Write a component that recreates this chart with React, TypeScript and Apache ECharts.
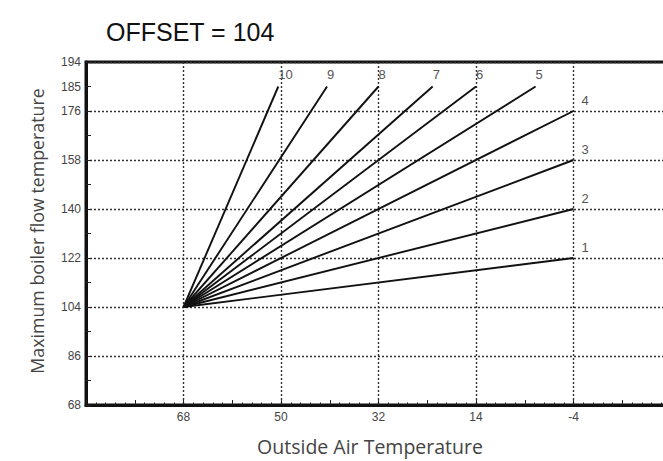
import React, { useEffect, useRef } from 'react';
import * as echarts from 'echarts';

// ---- data ----
const TITLE = 'OFFSET = 104';
const X_NAME = 'Outside Air Temperature';
const Y_NAME = 'Maximum boiler flow temperature';
const X_MIN = -22; // right edge (axis reversed)
const X_MAX = 86; // left edge
const Y_MIN = 68;
const Y_MAX = 194;
const X_TICK_LABELS = [68, 50, 32, 14, -4];
const Y_TICK_LABELS = [68, 86, 104, 122, 140, 158, 176, 185, 194];
const CURVE_NAMES = ['1', '2', '3', '4', '5', '6', '7', '8', '9', '10'];
const START_X = 68;
const START_Y = 104;
const END_X = [-4, -4, -4, -4, 3, 14, 22, 32, 41.5, 50.5];
const END_Y = [122, 140, 158, 176, 185, 185, 185, 185, 185, 185];

// axis transforms (x shown reversed, from 86 down to -22)
const tx = (x: number) => X_MAX - x;
const ty = (y: number) => y - Y_MIN;
const X_SPAN = X_MAX - X_MIN;
const Y_SPAN = Y_MAX - Y_MIN;

const TICK_FONT = 'Liberation Sans, Arial, sans-serif';
const NAME_FONT = 'Open Sans, Noto Sans, sans-serif';
const DARK = '#111';

export default function App() {
  const ref = useRef<HTMLDivElement>(null);
  useEffect(() => {
    if (!ref.current) return;
    const chart = echarts.init(ref.current, undefined, { renderer: 'svg' });
    const series = CURVE_NAMES.map((name, i) => ({
      name,
      type: 'line',
      xAxisIndex: 0,
      yAxisIndex: 0,
      showSymbol: false,
      symbol: 'none',
      silent: true,
      lineStyle: { color: DARK, width: 1.9 },
      data: [
        [tx(START_X), ty(START_Y)],
        [tx(END_X[i]), ty(END_Y[i])],
      ],
      endLabel: {
        show: true,
        formatter: name,
        distance: 0,
        offset: END_Y[i] === Y_MAX - 9 ? [0, -12] : [8, -11],
        color: '#555',
        fontSize: 13,
        fontFamily: TICK_FONT,
      },
    }));
    chart.setOption({
      animation: false,
      backgroundColor: '#fff',
      title: {
        text: TITLE,
        left: 101,
        top: 14,
        textStyle: { fontSize: 25, fontWeight: 'normal', color: DARK, fontFamily: TICK_FONT },
      },
      grid: {
        left: 86,
        top: 62,
        width: 585,
        height: 343,
        show: true,
        borderColor: DARK,
        borderWidth: 3,
        backgroundColor: 'transparent',
      },
      xAxis: [
        {
          type: 'value',
          min: 0,
          max: X_SPAN,
          interval: 18,
          position: 'bottom',
          axisLine: { show: true, lineStyle: { color: DARK, width: 3 } },
          axisTick: { show: false },
          axisLabel: {
            color: '#444',
            fontSize: 12,
            fontFamily: TICK_FONT,
            margin: 6,
            formatter: (v: number) => {
              const real = Math.round(X_MAX - v);
              return X_TICK_LABELS.includes(real) ? String(real) : '';
            },
          },
          splitLine: { show: true, lineStyle: { type: [2, 2], color: '#333', width: 1.4 } },
          name: X_NAME,
          nameLocation: 'middle',
          nameGap: 31,
          nameTextStyle: { fontSize: 19.5, color: '#444', fontFamily: NAME_FONT, padding: [0, 17, 0, 0] },
        },
        {
          type: 'value',
          min: 0,
          max: X_SPAN,
          interval: 9,
          position: 'bottom',
          axisLine: { show: false },
          axisTick: { show: true, inside: true, length: 5, lineStyle: { color: '#222', width: 1 } },
          minorTick: { show: true, splitNumber: 5, length: 2.5, lineStyle: { color: '#222', width: 1 } },
          axisLabel: { show: false },
          splitLine: { show: false },
        },
      ],
      yAxis: [
        {
          type: 'value',
          min: 0,
          max: Y_SPAN,
          interval: 9,
          position: 'left',
          axisLine: { show: true, lineStyle: { color: DARK, width: 3 } },
          axisTick: { show: true, inside: true, length: 5, lineStyle: { color: '#222', width: 1 } },
          axisLabel: {
            color: '#444',
            fontSize: 12,
            fontFamily: TICK_FONT,
            margin: 5,
            formatter: (v: number) => {
              const real = Math.round(v + Y_MIN);
              return Y_TICK_LABELS.includes(real) ? String(real) : '';
            },
          },
          splitLine: { show: false },
          name: Y_NAME,
          nameLocation: 'middle',
          nameGap: 40,
          nameTextStyle: { fontSize: 17.8, color: '#444', fontFamily: NAME_FONT, padding: [0, 0, 0, 5] },
        },
        {
          type: 'value',
          min: 0,
          max: Y_SPAN,
          interval: 18,
          position: 'left',
          axisLine: { show: false },
          axisTick: { show: false },
          axisLabel: { show: false },
          splitLine: { show: true, lineStyle: { type: [2, 2], color: '#333', width: 1.4 } },
        },
      ],
      series,
    });
    return () => chart.dispose();
  }, []);
  return (
    <div style={{ position: 'fixed', left: 0, top: 0, width: 663, height: 461, overflow: 'hidden', background: '#fff' }}>
      <div ref={ref} style={{ width: 700, height: 461 }} />
    </div>
  );
}
